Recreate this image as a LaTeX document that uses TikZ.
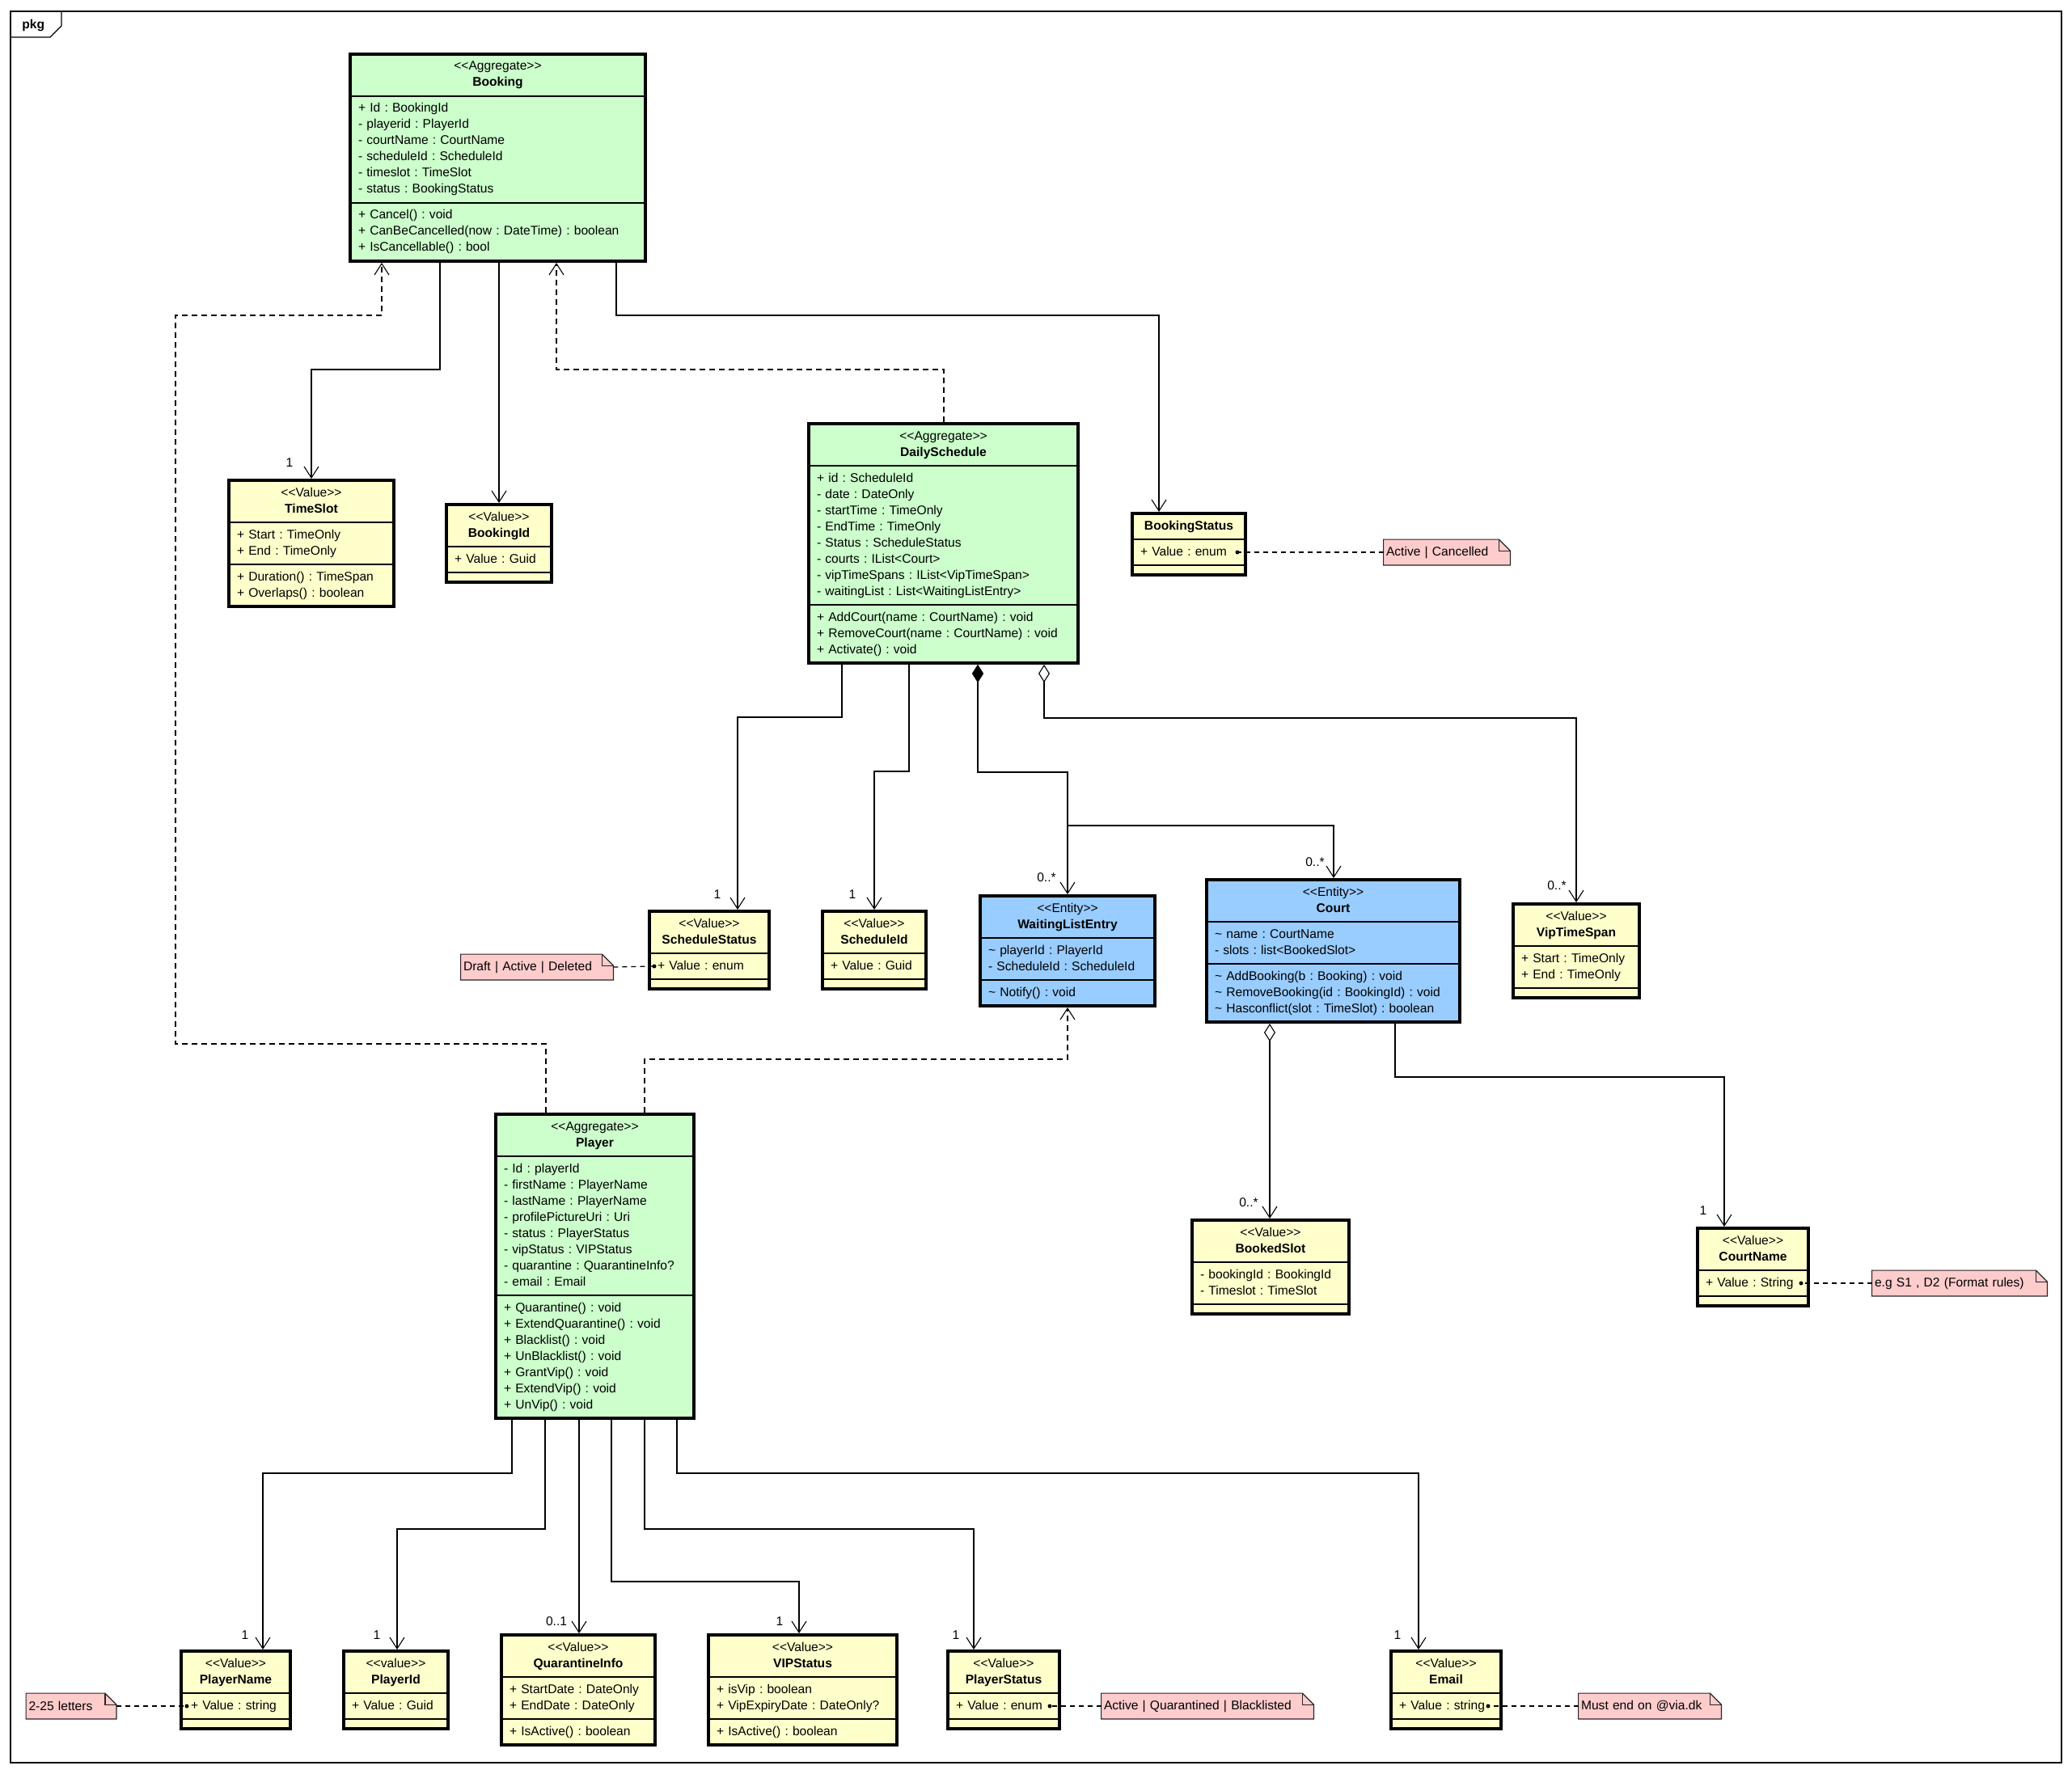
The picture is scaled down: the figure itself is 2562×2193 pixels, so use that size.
\documentclass[tikz,border=0pt]{standalone}
\usepackage{fontspec}
\setmainfont{Liberation Sans}
\usetikzlibrary{arrows.meta,fit,backgrounds}
\definecolor{aggfill}{HTML}{CCFFCC}
\definecolor{valfill}{HTML}{FFFFCC}
\definecolor{entfill}{HTML}{99CCFF}
\definecolor{notefill}{HTML}{FFCCCC}
\frenchspacing
\newcommand\classfont{\fontsize{7.8}{10}\selectfont\frenchspacing}
\newcommand\stereo[1]{<\kern0pt<#1>\kern0pt>}
\newcommand\tld{\textasciitilde}
% part of a class box below another part
\newcommand\umlpart[4]{%
  \if\relax\detokenize{#4}\relax
    \node[cls, fill=#3, text width=\umltw pt, anchor=north, minimum height=6pt] (#1) at (#2.south) {};
  \else
    \node[cls, fill=#3, text width=\umltw pt, align=left, anchor=north] (#1) at (#2.south) {\strut#4\strut};
  \fi}
% name, fill, x, y (top left, px), width px, header, attributes, methods
\newcommand\umlclass[8]{%
  \pgfmathsetmacro\umltw{#5*0.5-10}%
  \node[cls, fill=#2, text width=\umltw pt, align=center, anchor=north west] (#1-h) at (#3,#4) {\strut#6\strut};
  \umlpart{#1-a}{#1-h}{#2}{#7}%
  \umlpart{#1-m}{#1-a}{#2}{#8}%
  \node[fit=(#1-h)(#1-m), inner sep=0pt, draw, line width=2pt] (#1) {};}
% name, cx, cy, width px, text
\newcommand\umlnote[5]{%
  \pgfmathsetmacro\ntw{#4*0.5-3}%
  \node[notetext, text width=\ntw pt] (#1) at (#2,#3) {#5};
  \begin{scope}[on background layer]
    \filldraw[notebox] (#1.north west) -- ([xshift=-7pt]#1.north east) -- ([yshift=-7pt]#1.north east) -- (#1.south east) -- (#1.south west) -- cycle;
    \draw[notebox, fill=none] ([xshift=-7pt]#1.north east) |- ([yshift=-7pt]#1.north east);
  \end{scope}}
\begin{document}
\begin{tikzpicture}[x=0.5pt,y=-0.5pt,
  cls/.style={draw, line width=0.8pt, inner xsep=5pt, inner ysep=3pt, outer sep=0pt, font=\classfont},
  notetext/.style={font=\classfont, inner xsep=1.5pt, inner ysep=0pt, minimum height=15.5pt, align=left},
  notebox/.style={draw=black!85, line width=0.6pt, fill=notefill},
  notelink/.style={draw, line width=0.6pt, dash pattern=on 3pt off 2.5pt},
  assoc/.style={draw, line width=0.55pt, -{Straight Barb[length=7pt,width=9pt]}},
  dep/.style={assoc, dash pattern=on 3.5pt off 2.5pt},
  comp/.style={assoc, {Diamond[length=11pt,width=7pt]}-{Straight Barb[length=7pt,width=9pt]}},
  aggr/.style={assoc, {Diamond[open,fill=white,length=11pt,width=7pt]}-{Straight Barb[length=7pt,width=9pt]}},
  mult/.style={font=\classfont, inner sep=1pt},
  frame/.style={draw, line width=0.6pt}]
\begin{scope}[on background layer]
\fill[white] (0,0) rectangle (2562,2193);
\end{scope}
\useasboundingbox (0,0) rectangle (2562,2193);
% package frame
\draw[frame] (13,14) rectangle (2549,2180);
\draw[frame] (13,46) -- (62,46) -- (76,32) -- (76,14);
\node[font=\classfont\bfseries, anchor=base west, inner sep=0pt] (pkg) at (27,36) {pkg};

% classes
\umlclass{booking}{aggfill}{433}{67}{365}{\stereo{Aggregate}\\\textbf{Booking}}
 {+ Id : BookingId\\- playerid : PlayerId\\- courtName : CourtName\\- scheduleId : ScheduleId\\- timeslot : TimeSlot\\- status : BookingStatus}
 {+ Cancel() : void\\+ CanBeCancelled(now : DateTime) : boolean\\+ IsCancellable() : bool}
\umlclass{timeslot}{valfill}{283}{594}{204}{\stereo{Value}\\\textbf{TimeSlot}}
 {+ Start : TimeOnly\\+ End : TimeOnly}{+ Duration() : TimeSpan\\+ Overlaps() : boolean}
\umlclass{bookingid}{valfill}{552}{624}{130}{\stereo{Value}\\\textbf{BookingId}}{+ Value : Guid}{}
\umlclass{bookingstatus}{valfill}{1400}{635}{140}{\textbf{BookingStatus}}{+ Value : enum}{}
\umlclass{dailyschedule}{aggfill}{1000}{524}{333}{\stereo{Aggregate}\\\textbf{DailySchedule}}
 {+ id : ScheduleId\\- date : DateOnly\\- startTime : TimeOnly\\- EndTime : TimeOnly\\- Status : ScheduleStatus\\- courts : IList<Court>\\- vipTimeSpans : IList<VipTimeSpan>\\- waitingList : List<WaitingListEntry>}
 {+ AddCourt(name : CourtName) : void\\+ RemoveCourt(name : CourtName) : void\\+ Activate() : void}
\umlclass{schedulestatus}{valfill}{803}{1127}{148}{\stereo{Value}\\\textbf{ScheduleStatus}}{+ Value : enum}{}
\umlclass{scheduleid}{valfill}{1017}{1127}{128}{\stereo{Value}\\\textbf{ScheduleId}}{+ Value : Guid}{}
\umlclass{waitinglistentry}{entfill}{1212}{1108}{216}{\stereo{Entity}\\\textbf{WaitingListEntry}}
 {\tld{} playerId : PlayerId\\- ScheduleId : ScheduleId}{\tld{} Notify() : void}
\umlclass{court}{entfill}{1492}{1088}{313}{\stereo{Entity}\\\textbf{Court}}
 {\tld{} name : CourtName\\- slots : list<BookedSlot>}
 {\tld{} AddBooking(b : Booking) : void\\\tld{} RemoveBooking(id : BookingId) : void\\\tld{} Hasconflict(slot : TimeSlot) : boolean}
\umlclass{viptimespan}{valfill}{1871}{1118}{156}{\stereo{Value}\\\textbf{VipTimeSpan}}{+ Start : TimeOnly\\+ End : TimeOnly}{}
\umlclass{bookedslot}{valfill}{1474}{1509}{194}{\stereo{Value}\\\textbf{BookedSlot}}{- bookingId : BookingId\\- Timeslot : TimeSlot}{}
\umlclass{courtname}{valfill}{2099}{1519}{137}{\stereo{Value}\\\textbf{CourtName}}{+ Value : String}{}
\umlclass{player}{aggfill}{613}{1378}{245}{\stereo{Aggregate}\\\textbf{Player}}
 {- Id : playerId\\- firstName : PlayerName\\- lastName : PlayerName\\- profilePictureUri : Uri\\- status : PlayerStatus\\- vipStatus : VIPStatus\\- quarantine : QuarantineInfo?\\- email : Email}
 {+ Quarantine() : void\\+ ExtendQuarantine() : void\\+ Blacklist() : void\\+ UnBlacklist() : void\\+ GrantVip() : void\\+ ExtendVip() : void\\+ UnVip() : void}
\umlclass{playername}{valfill}{224}{2042}{135}{\stereo{Value}\\\textbf{PlayerName}}{\hspace*{1pt}+ Value : string}{}
\umlclass{playerid}{valfill}{425}{2042}{129}{\stereo{value}\\\textbf{PlayerId}}{+ Value : Guid}{}
\umlclass{quarantineinfo}{valfill}{620}{2022}{190}{\stereo{Value}\\\textbf{QuarantineInfo}}{+ StartDate : DateOnly\\+ EndDate : DateOnly}{+ IsActive() : boolean}
\umlclass{vipstatus}{valfill}{876}{2022}{233}{\stereo{Value}\\\textbf{VIPStatus}}{+ isVip : boolean\\+ VipExpiryDate : DateOnly?}{+ IsActive() : boolean}
\umlclass{playerstatus}{valfill}{1172}{2042}{138}{\stereo{Value}\\\textbf{PlayerStatus}}{+ Value : enum}{}
\umlclass{email}{valfill}{1720}{2042}{136}{\stereo{Value}\\\textbf{Email}}{+ Value : string}{}

% notes
\umlnote{bsnote}{1789}{683}{156}{Active | Cancelled}
\umlnote{ssnote}{664}{1196}{188}{Draft | Active | Deleted}
\umlnote{cnnote}{2423}{1587}{216}{e.g S1 , D2 (Format rules)}
\umlnote{pnnote}{88}{2110}{111}{2-25 letters}
\umlnote{psnote}{1493}{2110}{262}{Active | Quarantined | Blacklisted}
\umlnote{emnote}{2040}{2110}{176}{Must end on @via.dk}
\coordinate (bsdot) at ([xshift=-5pt]bookingstatus-a.east);
\coordinate (ssdot) at ([xshift=3pt]schedulestatus-a.west);
\coordinate (cndot) at ([xshift=-4.5pt]courtname-a.east);
\coordinate (pndot) at ([xshift=3.5pt]playername-a.west);
\coordinate (psdot) at ([xshift=-6pt]playerstatus-a.east);
\coordinate (emdot) at ([xshift=-8pt]email-a.east);
\draw[notelink] (bsnote.west) -- (bsdot);
\draw[notelink] (ssnote.east) -- (ssdot);
\draw[notelink] (cnnote.west) -- (cndot);
\draw[notelink] (pnnote.east) -- (pndot);
\draw[notelink] (psnote.west) -- (psdot);
\draw[notelink] (emnote.west) -- (emdot);
\foreach \d in {bsdot,ssdot,cndot,pndot,psdot,emdot} \fill (\d) circle (1.25pt);

% connectors from Booking
\draw[assoc] (544,0 |- booking.south) |- (385,457) -- (385,0 |- timeslot.north);
\draw[assoc] (617,0 |- booking.south) -- (617,0 |- bookingid.north);
\draw[assoc] (762,0 |- booking.south) |- (1433,390) -- (1433,0 |- bookingstatus.north);
% dependencies
\draw[dep] (1167,0 |- dailyschedule.north) |- (688,457) -- (688,0 |- booking.south);
\draw[dep] (675,0 |- player.north) |- (217,1291) |- (472,390) -- (472,0 |- booking.south);
\draw[dep] (797,0 |- player.north) |- (1320,1310) -- (1320,0 |- waitinglistentry.south);
% from DailySchedule
\draw[assoc] (1041,0 |- dailyschedule.south) |- (912,887) -- (912,0 |- schedulestatus.north);
\draw[assoc] (1124,0 |- dailyschedule.south) |- (1081,954) -- (1081,0 |- scheduleid.north);
\draw[comp] (1209,0 |- dailyschedule.south) |- (1320,955) -- (1320,0 |- waitinglistentry.north);
\draw[comp] (1209,0 |- dailyschedule.south) |- (1320,955) |- (1649,1021) -- (1649,0 |- court.north);
\draw[aggr] (1291,0 |- dailyschedule.south) |- (1949,888) -- (1949,0 |- viptimespan.north);
% from Court
\draw[aggr] (1570,0 |- court.south) -- (1570,0 |- bookedslot.north);
\draw[assoc] (1725,0 |- court.south) |- (2132,1332) -- (2132,0 |- courtname.north);
% from Player
\draw[assoc] (633,0 |- player.south) |- (325,1822) -- (325,0 |- playername.north);
\draw[assoc] (674,0 |- player.south) |- (491,1891) -- (491,0 |- playerid.north);
\draw[assoc] (716,0 |- player.south) -- (716,0 |- quarantineinfo.north);
\draw[assoc] (756,0 |- player.south) |- (988,1956) -- (988,0 |- vipstatus.north);
\draw[assoc] (797,0 |- player.south) |- (1204,1891) -- (1204,0 |- playerstatus.north);
\draw[assoc] (837,0 |- player.south) |- (1754,1822) -- (1754,0 |- email.north);

% multiplicities
\node[mult] (m1) at (358,572) {1};
\node[mult] (m2) at (887,1106) {1};
\node[mult] (m3) at (1054,1106) {1};
\node[mult] (m4) at (1294,1085) {0..*};
\node[mult] (m5) at (1626,1066) {0..*};
\node[mult] (m6) at (1925,1095) {0..*};
\node[mult] (m7) at (1544,1487) {0..*};
\node[mult] (m8) at (2106,1497) {1};
\node[mult] (m9) at (303,2022) {1};
\node[mult] (m10) at (466,2022) {1};
\node[mult] (m11) at (688,2005) {0..1};
\node[mult] (m12) at (964,2005) {1};
\node[mult] (m13) at (1182,2022) {1};
\node[mult] (m14) at (1728,2022) {1};
\end{tikzpicture}
\end{document}
